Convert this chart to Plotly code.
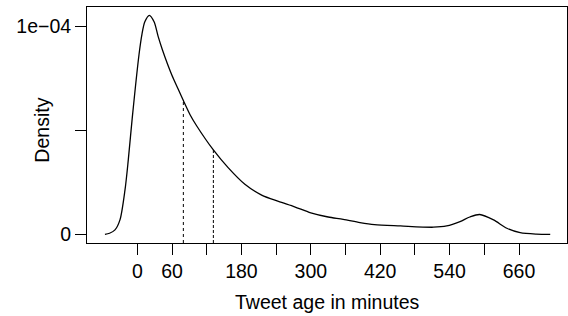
import numpy as np
import plotly.graph_objects as go

# Density curve of tweet age (minutes)
age_min = [-56, -48, -38.6, -30, -21.3, -15.6, -8.7, 2.9, 8, 13, 20.8, 29, 36,
           43.5, 59.5, 71, 79.6, 91.2, 102.8, 131.5, 157, 186, 215, 244, 272, 300,
           330, 356, 385, 410, 455, 512, 535, 558, 575, 592, 616, 639, 662, 690, 714]
density = [0, 0.5e-6, 2.1e-6, 6.9e-6, 2.13e-5, 3.57e-5, 5.6e-5, 8.62e-5, 9.6e-5,
           1.02e-4, 1.051e-4, 1.02e-4, 9.5e-5, 8.85e-5, 7.66e-5, 6.95e-5, 6.42e-5,
           5.74e-5, 5.2e-5, 4.05e-5, 3.2e-5, 2.4e-5, 1.88e-5, 1.58e-5, 1.32e-5,
           1.03e-5, 8.3e-6, 7.2e-6, 5.6e-6, 4.6e-6, 4.0e-6, 3.4e-6, 4.0e-6, 6.1e-6,
           8.3e-6, 9.5e-6, 6.9e-6, 2.9e-6, 0.8e-6, 0.1e-6, 0]

median_age = 79.6
mean_age = 131.5

x_tickvals = [0, 60, 120, 180, 240, 300, 360, 420, 480, 540, 600, 660]
x_ticktext = ["0", "60", "", "180", "", "300", "", "420", "", "540", "", "660"]
y_tickvals = [0, 5e-5, 1e-4]
y_ticktext = ["0", "", "1e\u221204"]

x_range = [-87, 743]
y_range = [-4.18e-6, 1.0912e-4]

FONT = "Liberation Sans, Arial, Helvetica, sans-serif"
FS = 19.5

fig = go.Figure()
fig.add_trace(go.Scatter(x=age_min, y=density, mode="lines",
                         line=dict(color="black", width=1.3, shape="spline", smoothing=0.8),
                         showlegend=False, hoverinfo="skip"))

med_h = float(np.interp(median_age, age_min, density))
mean_h = float(np.interp(mean_age, age_min, density))
fig.add_trace(go.Scatter(x=[median_age, median_age], y=[y_range[0], med_h], mode="lines",
                         line=dict(color="black", width=1, dash="dot"),
                         showlegend=False, hoverinfo="skip"))
fig.add_trace(go.Scatter(x=[mean_age, mean_age], y=[y_range[0], mean_h], mode="lines",
                         line=dict(color="black", width=1, dash="3px,2px"),
                         showlegend=False, hoverinfo="skip"))

axis_common = dict(showgrid=False, zeroline=False, showline=True, mirror=True,
                   linecolor="black", linewidth=1, ticks="outside", ticklen=11,
                   tickwidth=1, tickcolor="black",
                   tickfont=dict(family=FONT, size=FS, color="black"))

fig.update_layout(
    width=568, height=316,
    margin=dict(l=87, r=1, t=7, b=73),
    paper_bgcolor="white", plot_bgcolor="white",
    font=dict(family=FONT, size=FS, color="black"),
    xaxis=dict(range=x_range, tickmode="array", tickvals=x_tickvals,
               ticktext=x_ticktext, **axis_common),
    yaxis=dict(range=y_range, tickmode="array", tickvals=y_tickvals,
               ticktext=y_ticktext, **axis_common),
    annotations=[
        dict(text="Tweet age in minutes", x=0.5, y=-0.2487, xref="paper", yref="paper",
             xanchor="center", yanchor="middle", showarrow=False,
             font=dict(family=FONT, size=FS, color="black")),
        dict(text="Density", x=-0.0944, y=0.479, xref="paper", yref="paper",
             xanchor="center", yanchor="middle", showarrow=False, textangle=-90,
             font=dict(family=FONT, size=FS, color="black")),
    ],
)

fig.write_html("out.html", config={"displayModeBar": False},
               post_script="document.body.style.margin='0';document.body.style.overflow='hidden';")
